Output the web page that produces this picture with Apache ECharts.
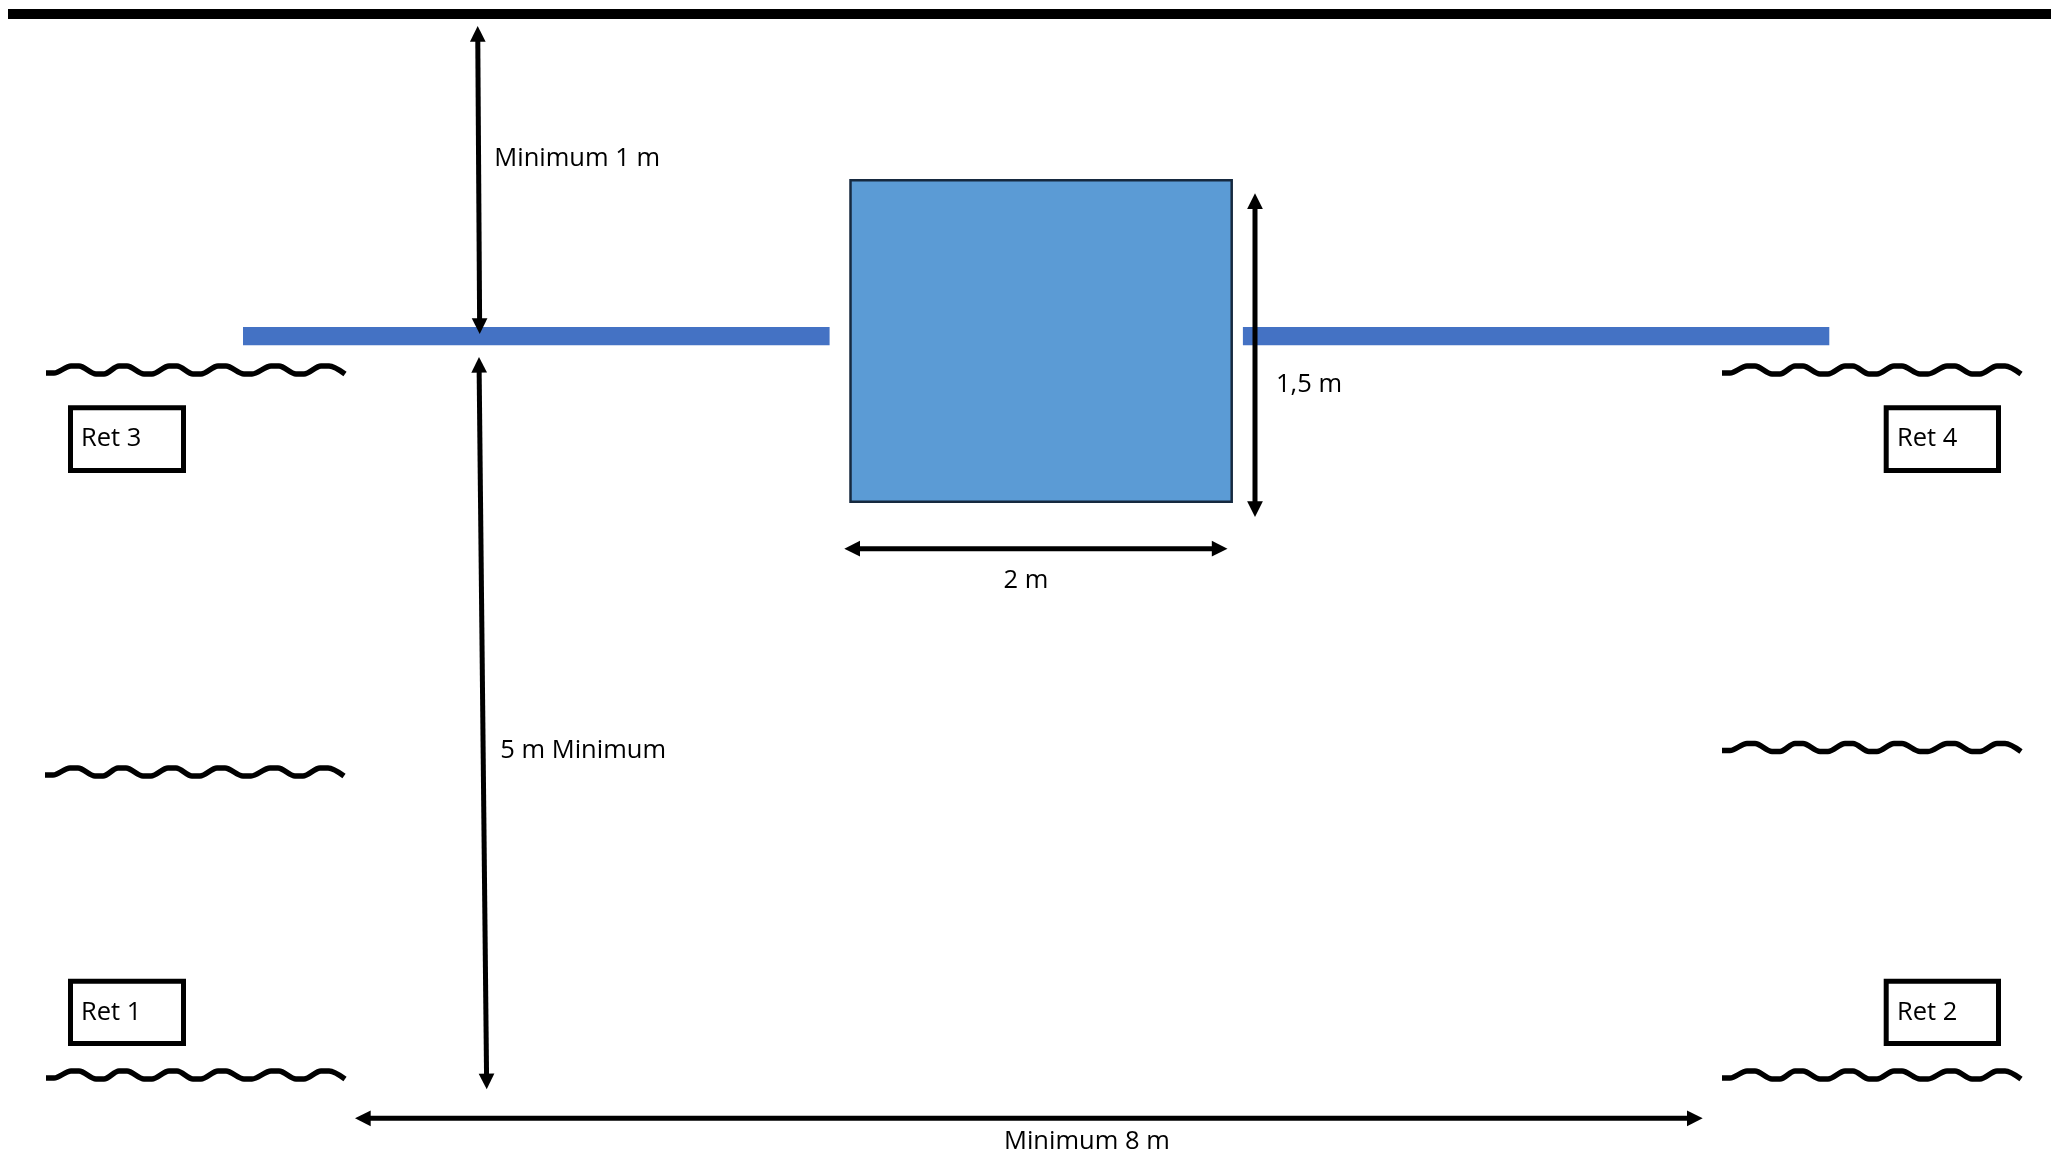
<!DOCTYPE html>
<html>
<head>
<meta charset="utf-8">
<style>html,body{margin:0;padding:0;background:#fff}#c{width:2051px;height:1155px}</style>
<script src="https://cdn.jsdelivr.net/npm/echarts@6/dist/echarts.min.js"></script>
</head>
<body>
<div id="c"></div>
<script>
// Filled shapes: [x0, y0, x1, y1]
var topBar = [[8, 9, 2051, 19]];
var blueBars = [[243, 327, 829.6, 345.3], [1242.9, 327, 1829.3, 345.3]];
var tank = [[850.5, 180.3, 1231.7, 501.8]];
// Framed boxes: [x0, y0, x1, y1]
var retBoxes = [[70.5, 407.8, 183.5, 470.5], [1886.2, 407.8, 1998.5, 470.5], [70.5, 981.3, 183.5, 1043.5], [1886.2, 981.3, 1998.5, 1043.5]];
// Arrows: [x0, y0, x1, y1] tip to tip
var arrows = [
  [477.7, 26, 479.7, 334],
  [479, 357, 486.7, 1089.3],
  [1255, 193.3, 1255, 517],
  [844.3, 548.7, 1227.5, 548.7],
  [355, 1118.3, 1702.7, 1118.3]
];
// Labels: [text, x, baseline y]
var labels = [
  ['Minimum 1 m', 494.3, 166],
  ['5 m Minimum', 500.3, 758],
  ['1,5 m', 1276, 391.7],
  ['2 m', 1003.6, 587.7],
  ['Minimum 8 m', 1004, 1149],
  ['Ret 3', 81, 445.7],
  ['Ret 4', 1897, 445.7],
  ['Ret 1', 81, 1020],
  ['Ret 2', 1897, 1020]
];
// Wavy ground lines: offsets along each crest and trough, then each line's start
var waveDx = [0, 8, 25, 33, 50, 58, 73, 81, 98, 106, 123, 131, 147, 155, 172, 180, 198, 206, 225, 233, 250, 258, 275, 283, 299];
var waveDy = [0, 0, -7, -7, 1, 1, -7, -7, 1, 1, -7, -7, 1, 1, -7, -7, 1, 1, -7, -7, 1, 1, -7, -7, 1];
var waveStarts = [[46, 373], [45, 775], [46, 1078], [1722, 373], [1722, 750.5], [1722, 1078]];

var FONT = '25.5px "Open Sans"';
var BASELINE_SHIFT = 7;

function rectSeries(rows, style) {
  return {
    type: 'custom', coordinateSystem: 'cartesian2d', clip: false, silent: true,
    data: rows,
    renderItem: function (p, api) {
      var a = api.coord([api.value(0), api.value(1)]);
      var b = api.coord([api.value(2), api.value(3)]);
      return { type: 'rect', shape: { x: a[0], y: a[1], width: b[0] - a[0], height: b[1] - a[1] }, style: style };
    }
  };
}
var HEAD = 15.7, SHAFT = 5;
var arrowSeries = {
  type: 'custom', coordinateSystem: 'cartesian2d', clip: false, silent: true,
  data: arrows,
  renderItem: function (p, api) {
    var a = api.coord([api.value(0), api.value(1)]);
    var b = api.coord([api.value(2), api.value(3)]);
    var dx = b[0] - a[0], dy = b[1] - a[1], L = Math.sqrt(dx * dx + dy * dy);
    var ux = dx / L, uy = dy / L, nx = -uy, ny = ux, w = HEAD / 2;
    function head(t, s) {
      var bx = t[0] + s * ux * HEAD, by = t[1] + s * uy * HEAD;
      return { type: 'polygon', shape: { points: [t, [bx + nx * w, by + ny * w], [bx - nx * w, by - ny * w]] }, style: { fill: '#000' } };
    }
    return {
      type: 'group',
      children: [
        { type: 'line', shape: { x1: a[0] + ux * HEAD * 0.9, y1: a[1] + uy * HEAD * 0.9, x2: b[0] - ux * HEAD * 0.9, y2: b[1] - uy * HEAD * 0.9 }, style: { stroke: '#000', lineWidth: SHAFT } },
        head(a, 1), head(b, -1)
      ]
    };
  }
};
var textSeries = {
  type: 'custom', coordinateSystem: 'cartesian2d', clip: false, silent: true,
  data: labels.map(function (l) { return [l[1], l[2], l[0]]; }),
  dimensions: ['x', 'y', 'text'],
  encode: { x: 0, y: 1 },
  renderItem: function (p, api) {
    var c = api.coord([api.value(0), api.value(1)]);
    return { type: 'text', x: c[0], y: c[1] - BASELINE_SHIFT, style: { text: labels[p.dataIndex][0], font: FONT, fill: '#000', align: 'left', verticalAlign: 'middle' } };
  }
};
var waveSeries = waveStarts.map(function (s) {
  return {
    type: 'line', smooth: 0.3, symbol: 'none', silent: true, clip: false,
    lineStyle: { color: '#000', width: 5.4, cap: 'butt', join: 'round' },
    data: waveDx.map(function (d, i) { return [s[0] + d, s[1] + waveDy[i]]; })
  };
});

var chart = echarts.init(document.getElementById('c'), null, { renderer: 'canvas' });
chart.setOption({
  animation: false,
  backgroundColor: '#fff',
  grid: { left: 0, right: 0, top: 0, bottom: 0 },
  xAxis: { type: 'value', min: 0, max: 2051, show: false },
  yAxis: { type: 'value', min: 0, max: 1155, inverse: true, show: false },
  series: [
    rectSeries(topBar, { fill: '#000' }),
    rectSeries(blueBars, { fill: '#4472C4' }),
    rectSeries(tank, { fill: '#5B9BD5', stroke: '#16293f', lineWidth: 2.5 }),
    rectSeries(retBoxes, { fill: '#fff', stroke: '#000', lineWidth: 5 })
  ].concat(waveSeries, [arrowSeries, textSeries])
});
</script>
</body>
</html>
